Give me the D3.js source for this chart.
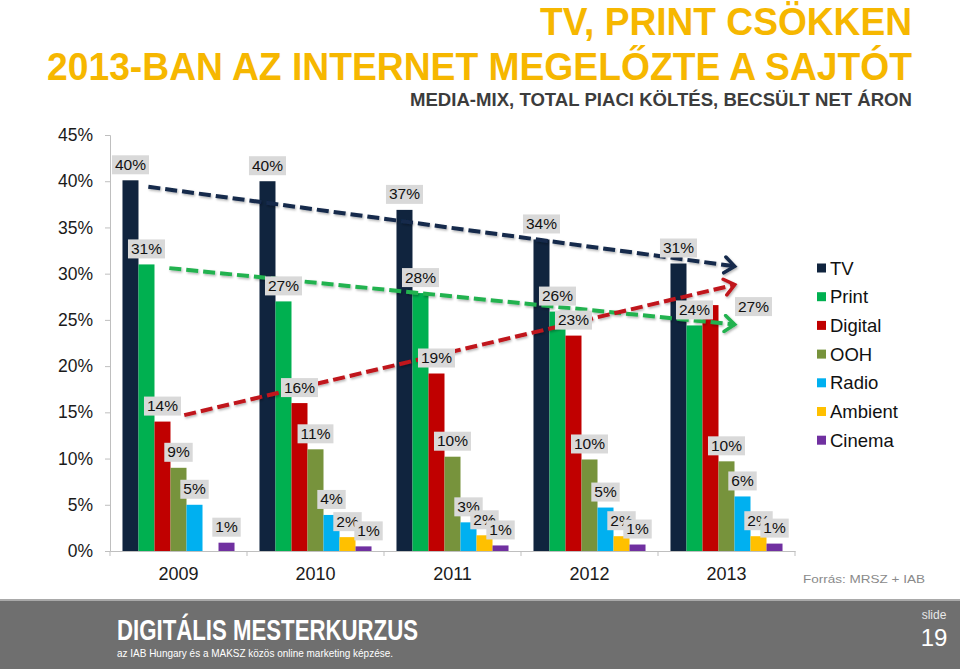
<!DOCTYPE html>
<html>
<head>
<meta charset="utf-8">
<script src="https://cdn.jsdelivr.net/npm/d3@7/dist/d3.min.js"></script>
<style>
  html, body { margin: 0; padding: 0; background: #fff; }
  svg { display: block; }
  text { font-family: Arial, "Liberation Sans", sans-serif; }
</style>
</head>
<body>
<svg id="chart" width="960" height="669"></svg>
<script>
// ---------- DATA ----------
const years = ["2009", "2010", "2011", "2012", "2013"];
const seriesNames = ["TV", "Print", "Digital", "OOH", "Radio", "Ambient", "Cinema"];
const tvValues      = [40.1, 40.0, 36.9, 33.7, 31.1];
const printValues   = [31.0, 27.0, 27.9, 25.9, 24.4];
const digitalValues = [14.0, 16.0, 19.2, 23.3, 26.6];
const oohValues     = [9.0, 11.0, 10.2, 9.9, 9.7];
const radioValues   = [5.0, 3.9, 3.1, 4.7, 5.9];
const ambientValues = [0, 1.5, 1.7, 1.6, 1.6];
const cinemaValues  = [0.9, 0.5, 0.6, 0.7, 0.8];
const yTickValues = [0, 5, 10, 15, 20, 25, 30, 35, 40, 45];

// trend arrows in data space: [year, fraction of band], value
const trendFrom = [["2009", 0.28, 39.4], ["2009", 0.433, 30.6], ["2009", 0.542, 14.7]];
const trendTo   = [["2013", 0.56, 30.8], ["2013", 0.56, 24.5], ["2013", 0.56, 28.8]];
const trendSeries = ["TV", "Print", "Digital"];

const titleLine1 = "TV, PRINT CSÖKKEN";
const titleLine2 = "2013-BAN AZ INTERNET MEGELŐZTE A SAJTÓT";
const subtitle = "MEDIA-MIX, TOTAL PIACI KÖLTÉS, BECSÜLT NET ÁRON";
const sourceText = "Forrás: MRSZ + IAB";

// ---------- STYLE ----------
const colors = {
  TV: "#10243e", Print: "#00b050", Digital: "#c00000", OOH: "#77933c",
  Radio: "#00b0f0", Ambient: "#ffc000", Cinema: "#7030a0"
};
const trendColors = { TV: "#14294b", Print: "#22b24f", Digital: "#c0141b" };
// manual label nudges (layout only)
const labelNudge = { "Digital-2013": [43, 17], "Cinema-2010": [5, 0] };

const valuesBySeries = {
  TV: tvValues, Print: printValues, Digital: digitalValues, OOH: oohValues,
  Radio: radioValues, Ambient: ambientValues, Cinema: cinemaValues
};

const svg = d3.select("#chart");

// ---------- TITLES ----------
const narrow = '"Liberation Sans Narrow", "Arial Narrow", Arial, sans-serif';
svg.append("text").attr("x", 912).attr("y", 35).attr("text-anchor", "end")
  .attr("font-family", narrow).attr("font-weight", "bold").attr("font-size", 39)
  .attr("fill", "#f6b700").attr("textLength", 372).attr("lengthAdjust", "spacingAndGlyphs")
  .text(titleLine1);
svg.append("text").attr("x", 912).attr("y", 80).attr("text-anchor", "end")
  .attr("font-family", narrow).attr("font-weight", "bold").attr("font-size", 39)
  .attr("fill", "#f6b700").attr("textLength", 865).attr("lengthAdjust", "spacingAndGlyphs")
  .text(titleLine2);
svg.append("text").attr("x", 912).attr("y", 106).attr("text-anchor", "end")
  .attr("font-family", narrow).attr("font-weight", "bold").attr("font-size", 18)
  .attr("fill", "#3c3c3c").attr("textLength", 502).attr("lengthAdjust", "spacingAndGlyphs")
  .text(subtitle);

// ---------- SCALES ----------
const x0 = d3.scaleBand().domain(years).range([110, 795]).paddingInner(0).paddingOuter(0);
const x1 = d3.scaleBand().domain(seriesNames).range([0, x0.bandwidth()]).paddingInner(0).paddingOuter(0.78);
const y = d3.scaleLinear().domain([0, 45]).range([551, 135]);

// ---------- AXES ----------
const yAxis = svg.append("g").attr("transform", "translate(110,0)")
  .call(d3.axisLeft(y).tickValues(yTickValues).tickFormat(d => d + "%").tickSize(5).tickPadding(12));
yAxis.select(".domain").attr("stroke", "#bfbfbf");
yAxis.selectAll(".tick line").attr("stroke", "#bfbfbf");
yAxis.selectAll(".tick text").attr("font-size", 17.5).attr("fill", "#1a1a1a")
  .attr("font-family", "Arial, 'Liberation Sans', sans-serif");

const xAxis = svg.append("g").attr("transform", "translate(0,551)")
  .call(d3.axisBottom(x0).tickSize(0).tickPadding(16));
xAxis.select(".domain").attr("stroke", "#bfbfbf");
xAxis.selectAll(".tick text").attr("font-size", 18).attr("fill", "#1a1a1a")
  .attr("font-family", "Arial, 'Liberation Sans', sans-serif");
const boundaries = years.map(yr => x0(yr)).concat([x0(years[years.length - 1]) + x0.bandwidth()]);
svg.append("g").selectAll("line").data(boundaries).join("line")
  .attr("x1", d => d).attr("x2", d => d).attr("y1", 551).attr("y2", 556)
  .attr("stroke", "#bfbfbf");

// ---------- BARS ----------
const groups = svg.append("g").selectAll("g").data(years).join("g")
  .attr("transform", d => `translate(${x0(d)},0)`);
groups.selectAll("rect")
  .data(yr => seriesNames.map(s => ({ s, yr, v: valuesBySeries[s][years.indexOf(yr)] })))
  .join("rect")
  .attr("x", d => x1(d.s)).attr("width", x1.bandwidth())
  .attr("y", d => y(d.v)).attr("height", d => y(0) - y(d.v))
  .attr("fill", d => colors[d.s]);

// ---------- TREND ARROWS ----------
const defs = svg.append("defs");
const shadow = defs.append("filter").attr("id", "sh").attr("x", "-10%").attr("y", "-50%").attr("width", "120%").attr("height", "200%");
shadow.append("feDropShadow").attr("dx", 1).attr("dy", 1.5).attr("stdDeviation", 1.2).attr("flood-color", "#000").attr("flood-opacity", 0.3);
trendSeries.forEach(s => {
  defs.append("marker").attr("id", "arr-" + s)
    .attr("viewBox", "0 0 16 20").attr("refX", 13).attr("refY", 10)
    .attr("markerWidth", 16).attr("markerHeight", 20)
    .attr("markerUnits", "userSpaceOnUse").attr("orient", "auto")
    .append("path").attr("d", "M3,2 L13,10 L3,18")
    .attr("fill", "none").attr("stroke", trendColors[s]).attr("stroke-width", 3.5)
    .attr("stroke-linecap", "round").attr("stroke-linejoin", "miter");
});
const trendG = svg.append("g").attr("filter", "url(#sh)");
trendSeries.forEach((s, i) => {
  const f = trendFrom[i], t = trendTo[i];
  const xa = x0(f[0]) + f[1] * x0.bandwidth(), ya = y(f[2]);
  const xb = x0(t[0]) + t[1] * x0.bandwidth(), yb = y(t[2]);
  trendG.append("line").attr("x1", xa).attr("y1", ya).attr("x2", xb).attr("y2", yb)
    .attr("stroke", trendColors[s]).attr("stroke-width", 4)
    .attr("stroke-dasharray", "12,5")
    .attr("marker-end", `url(#arr-${s})`);
});

// ---------- DATA LABELS ----------
const labelG = svg.append("g");
years.forEach(yr => {
  seriesNames.forEach(s => {
    const v = valuesBySeries[s][years.indexOf(yr)];
    if (!v) return;
    const txt = Math.round(v) + "%";
    const nudge = labelNudge[s + "-" + yr] || [0, 0];
    const cx = x0(yr) + x1(s) + x1.bandwidth() / 2 + nudge[0];
    const bottom = y(v) - 6 + nudge[1];
    const g = labelG.append("g");
    const t = g.append("text").attr("x", cx).attr("y", bottom - 4.5)
      .attr("text-anchor", "middle").attr("font-size", 15.5).attr("fill", "#111").text(txt);
    const w = t.node().getComputedTextLength() + 6;
    g.insert("rect", "text").attr("x", cx - w / 2).attr("y", bottom - 19)
      .attr("width", w).attr("height", 19).attr("fill", "#d9d9d9");
  });
});

// ---------- LEGEND ----------
const legend = svg.append("g").attr("transform", "translate(817,268)");
const rows = legend.selectAll("g").data(seriesNames).join("g")
  .attr("transform", (d, i) => `translate(0,${i * 28.7})`);
rows.append("rect").attr("x", 0).attr("y", -4.5).attr("width", 9).attr("height", 9)
  .attr("fill", d => colors[d]);
rows.append("text").attr("x", 13).attr("y", 6.5).attr("font-size", 18.5).attr("fill", "#111").text(d => d);

// ---------- SOURCE ----------
svg.append("text").attr("x", 803).attr("y", 583)
  .attr("font-family", "'DejaVu Sans', Verdana, sans-serif").attr("font-size", 11.5)
  .attr("fill", "#8a8a8a").attr("textLength", 122).attr("lengthAdjust", "spacingAndGlyphs")
  .text(sourceText);

// ---------- FOOTER ----------
svg.append("rect").attr("x", 0).attr("y", 600).attr("width", 960).attr("height", 69).attr("fill", "#6f6f6f");
svg.append("rect").attr("x", 0).attr("y", 599).attr("width", 960).attr("height", 2).attr("fill", "#a9a9a9");
svg.append("text").attr("x", 117).attr("y", 640)
  .attr("font-family", narrow).attr("font-weight", "bold").attr("font-size", 29)
  .attr("fill", "#ffffff").attr("textLength", 301).attr("lengthAdjust", "spacingAndGlyphs")
  .text("DIGITÁLIS MESTERKURZUS");
svg.append("text").attr("x", 117).attr("y", 657)
  .attr("font-family", narrow).attr("font-size", 11.5)
  .attr("fill", "#ffffff").attr("textLength", 276).attr("lengthAdjust", "spacingAndGlyphs")
  .text("az IAB Hungary és a MAKSZ közös online marketing képzése.");
svg.append("text").attr("x", 934).attr("y", 619).attr("text-anchor", "middle")
  .attr("font-family", "'Open Sans', 'DejaVu Sans', sans-serif").attr("font-size", 12)
  .attr("fill", "#e8e8e8").text("slide");
svg.append("text").attr("x", 934).attr("y", 646).attr("text-anchor", "middle")
  .attr("font-family", "'Liberation Serif', 'DejaVu Serif', serif").attr("font-size", 24)
  .attr("fill", "#ffffff").text("19");
</script>
</body>
</html>
